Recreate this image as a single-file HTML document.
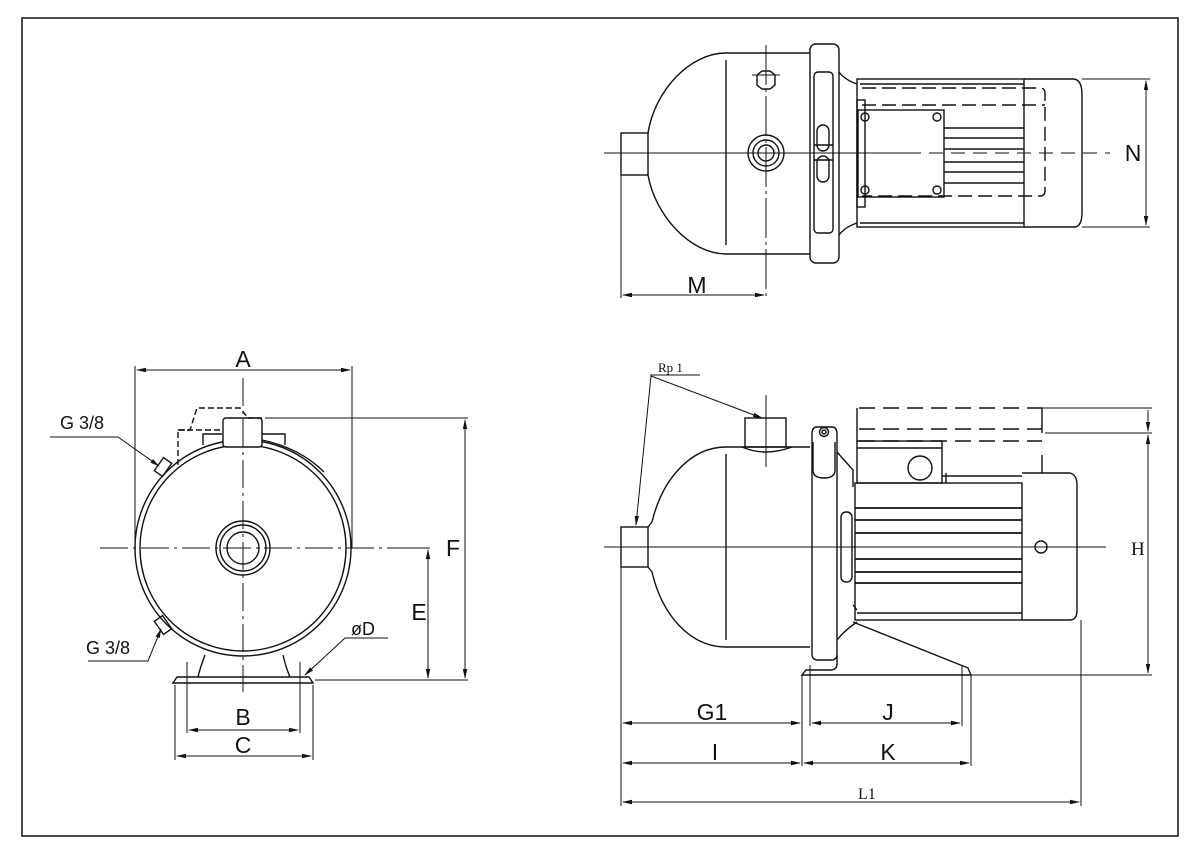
<!DOCTYPE html>
<html><head><meta charset="utf-8"><style>
html,body{margin:0;padding:0;background:#fff}
svg{display:block}
text{font-family:"Liberation Sans",sans-serif;fill:#111}
.s{font-family:"Liberation Serif",serif}
</style></head><body>
<svg width="1200" height="854" viewBox="0 0 1200 854" xmlns="http://www.w3.org/2000/svg">
<defs>
<marker id="ar" markerWidth="10" markerHeight="6" refX="9" refY="3" orient="auto-start-reverse" markerUnits="userSpaceOnUse"><path d="M0,0.8 L10,3 L0,5.2z" fill="#111"/></marker>
</defs>
<rect x="22" y="18" width="1156" height="818" fill="none" stroke="#111" stroke-width="1.5"/>
<g fill="none" stroke="#111" stroke-width="1.4">

<!-- ============ FRONT VIEW ============ -->
<circle cx="243" cy="548" r="108"/>
<circle cx="243" cy="548" r="103"/>
<circle cx="243" cy="548" r="27"/>
<circle cx="243" cy="548" r="23"/>
<circle cx="243" cy="548" r="16"/>
<rect x="223" y="418" width="39" height="29" rx="3" fill="#fff"/>
<path d="M203,445 L203,434 L222,434 M262,434 L285,434 L285,445"/>
<path d="M262,440 Q300,448 324,472"/>
<path d="M178,465 L178,430 L190,430 L197,408 L240,408 L248,418 L262,418" stroke-dasharray="6,3"/>
<path d="M178,430 L222,430" stroke-dasharray="6,3"/>
<rect x="158" y="459" width="10" height="16" transform="rotate(35 163 467)"/>
<rect x="158" y="617" width="10" height="16" transform="rotate(-35 163 625)"/>
<path d="M205,655 Q200,668 198,677 M283,655 Q286,668 290,677"/>
<path d="M173,683 L177,677 L309,677 L313,683 Z"/>
<path d="M243,378 L243,692" stroke-width="1" stroke-dasharray="28,5,3,5"/>
<path d="M100,548 L430,548" stroke-width="1" stroke-dasharray="28,5,3,5"/>
<path d="M135,366 L135,548 M352,366 L352,548" stroke-width="1"/>
<path d="M137,370 L350,370" stroke-width="1" marker-start="url(#ar)" marker-end="url(#ar)"/>
<path d="M265,418 L468,418 M315,680 L468,680 M430,548 L392,548" stroke-width="1"/>
<path d="M465,420 L465,678" stroke-width="1" marker-start="url(#ar)" marker-end="url(#ar)"/>
<path d="M428,550 L428,678" stroke-width="1" marker-start="url(#ar)" marker-end="url(#ar)"/>
<path d="M187,662 L187,733 M300,662 L300,733 M175,685 L175,760 M313,685 L313,760" stroke-width="1"/>
<path d="M189,730 L298,730" stroke-width="1" marker-start="url(#ar)" marker-end="url(#ar)"/>
<path d="M177,756 L311,756" stroke-width="1" marker-start="url(#ar)" marker-end="url(#ar)"/>
<path d="M50,437 L118,437 L159,466" stroke-width="1" marker-end="url(#ar)"/>
<path d="M88,661 L148,661 L161,629" stroke-width="1" marker-end="url(#ar)"/>
<path d="M388,638 L345,638 L305,675" stroke-width="1" marker-end="url(#ar)"/>

<!-- ============ TOP VIEW ============ -->
<rect x="621" y="133" width="27" height="42"/>
<path d="M648,133 C655,90 690,53 726,53 L810,53 M648,175 C655,215 690,254 726,254 L810,254"/>
<path d="M726,60 L726,245"/>
<rect x="810" y="44" width="29" height="219" rx="6"/>
<rect x="814" y="72" width="19" height="161" rx="4"/>
<rect x="817" y="125" width="12" height="26" rx="6"/>
<rect x="817" y="156" width="12" height="26" rx="6"/>
<path d="M814,145 L833,145 M814,160 L833,160"/>
<path d="M839,72 Q845,80 857,84 M839,235 Q845,227 857,223"/>
<rect x="857" y="79" width="167" height="148"/>
<path d="M860,84 L1024,84 M860,223 L1024,223"/>
<path d="M1024,79 L1074,79 Q1082,80 1082,95 L1082,212 Q1082,227 1074,227 L1024,227"/>
<rect x="857" y="100" width="8" height="107"/>
<rect x="858" y="110" width="86" height="87"/>
<circle cx="865" cy="117" r="4"/><circle cx="937" cy="117" r="4"/>
<circle cx="865" cy="190" r="4"/><circle cx="937" cy="190" r="4"/>
<path d="M944,128 L1024,128 M944,138 L1024,138 M944,149 L1024,149 M944,162 L1024,162 M944,172 L1024,172 M944,183 L1024,183" stroke-width="1.6"/>
<path d="M862,88 L1040,88 Q1045,88 1045,93 L1045,191 Q1045,196 1040,196 L862,196 M862,105 L1045,105" stroke-dasharray="14,6"/>
<circle cx="766" cy="153" r="18"/><circle cx="766" cy="153" r="13"/><circle cx="766" cy="153" r="8"/>
<path d="M757,75 L762,71 L770,71 L775,75 L775,85 L770,89 L762,89 L757,85 Z"/>
<path d="M752,75 L780,75" stroke-width="1"/>
<path d="M604,153 L907,153" stroke-width="1"/>
<path d="M907,153 L1110,153" stroke-width="1" stroke-dasharray="14,8"/>
<path d="M766,45 L766,298" stroke-width="1" stroke-dasharray="40,4,3,4"/>
<path d="M621,175 L621,298" stroke-width="1"/>
<path d="M623,295 L764,295" stroke-width="1" marker-start="url(#ar)" marker-end="url(#ar)"/>
<path d="M1082,79 L1150,79 M1082,227 L1150,227" stroke-width="1"/>
<path d="M1146,81 L1146,225" stroke-width="1" marker-start="url(#ar)" marker-end="url(#ar)"/>

<!-- ============ SIDE VIEW ============ -->
<rect x="621" y="527" width="27" height="40"/>
<path d="M648,527 L652,522 M648,567 L652,572"/>
<path d="M652,522 C662,480 690,447 726,447 L810,447 M652,572 C662,615 690,647 726,647 L810,647"/>
<path d="M726,454 L726,640"/>
<rect x="745" y="418" width="41" height="29"/>
<path d="M742,447 Q765,457 792,447"/>
<path d="M766,395 L766,467" stroke-width="1"/>
<!-- flange -->
<path d="M812,434 Q812,427 817,427 L832,427 Q837,427 837,434 L837,654 Q837,660 831,660 L818,660 Q812,660 812,654 Z"/>
<circle cx="824" cy="432" r="4.5"/><circle cx="824" cy="432" r="2"/>
<path d="M813,442 L813,470 Q813,478 824,478 Q835,478 835,470 L835,442"/>
<path d="M837,452 L853,470 L853,487"/>
<rect x="841" y="512" width="11" height="70" rx="5"/>
<!-- motor -->
<rect x="855" y="483" width="167" height="137"/>
<path d="M857,613 L1022,613 M853,605 L857,610 M837,640 Q845,630 857,622"/>
<path d="M1022,473 L1070,473 Q1077,475 1077,485 L1077,610 Q1077,620 1070,620 L1022,620"/>
<rect x="857" y="441" width="85" height="42"/>
<path d="M857,448 L942,448 M942,476 L1022,476 M946,473 L946,483"/>
<circle cx="920" cy="468" r="12"/>
<path d="M855,508 L1022,508 M855,520 L1022,520 M855,533 L1022,533 M855,559 L1022,559 M855,572 L1022,572 M855,583 L1022,583" stroke-width="1.7"/>
<circle cx="1041" cy="547" r="6"/>
<path d="M859,408 L1042,408 M859,429 L1042,429 M859,441 L1042,441" stroke-dasharray="16,8"/>
<path d="M857,408 L857,441 M1042,408 L1042,433 M1042,455 L1042,473"/>
<path d="M1042,408 L1152,408 M1045,433 L1152,433 M971,675 L1152,675" stroke-width="1"/>
<path d="M1148,410 L1148,431" stroke-width="1" marker-end="url(#ar)"/>
<path d="M1148,435 L1148,673" stroke-width="1" marker-start="url(#ar)" marker-end="url(#ar)"/>
<path d="M837,655 L837,664 Q837,670 830,670 L806,670 L802,675 L971,675 L968,668 L853,622"/>
<path d="M604,547 L1106,547" stroke-width="1"/>
<path d="M650,375 L700,375" stroke-width="1"/>
<path d="M651,376 L636,525" stroke-width="1" marker-end="url(#ar)"/>
<path d="M651,376 L762,418" stroke-width="1" marker-end="url(#ar)"/>
<path d="M621,567 L621,806 M1081,620 L1081,806 M802,675 L802,766 M971,675 L971,766 M810,665 L810,726 M962,665 L962,726" stroke-width="1"/>
<path d="M623,723 L800,723" stroke-width="1" marker-start="url(#ar)" marker-end="url(#ar)"/>
<path d="M812,723 L960,723" stroke-width="1" marker-start="url(#ar)" marker-end="url(#ar)"/>
<path d="M623,763 L800,763" stroke-width="1" marker-start="url(#ar)" marker-end="url(#ar)"/>
<path d="M804,763 L969,763" stroke-width="1" marker-start="url(#ar)" marker-end="url(#ar)"/>
<path d="M623,802 L1079,802" stroke-width="1" marker-start="url(#ar)" marker-end="url(#ar)"/>
</g>

<g font-size="23" text-anchor="middle">
<text x="243" y="367">A</text>
<text x="453" y="556">F</text>
<text x="419" y="620">E</text>
<text x="243" y="725">B</text>
<text x="243" y="753">C</text>
<text x="697" y="293">M</text>
<text x="1133" y="161">N</text>
<text x="712" y="720">G1</text>
<text x="888" y="720">J</text>
<text x="715" y="760">I</text>
<text x="888" y="760">K</text>
</g>
<g font-size="18">
<text x="60" y="429">G 3/8</text>
<text x="86" y="654">G 3/8</text>
<text x="351" y="635">øD</text>
</g>
<text class="s" x="1131" y="555" font-size="19">H</text>
<text class="s" x="858" y="799" font-size="16">L1</text>
<text class="s" x="658" y="372" font-size="13">Rp 1</text>
</svg>
</body></html>
